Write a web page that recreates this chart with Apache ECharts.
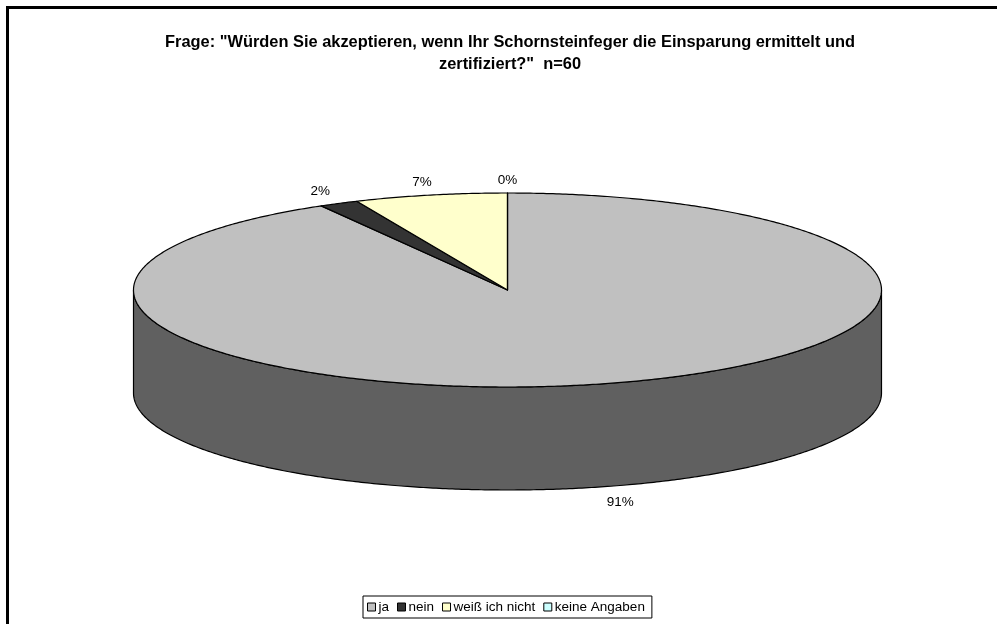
<!DOCTYPE html>
<html><head><meta charset="utf-8">
<style>html,body{margin:0;padding:0;background:#fff}#c{width:997px;height:624px}</style>
<script src="https://cdn.jsdelivr.net/npm/echarts@6/dist/echarts.min.js"></script>
</head><body><div id="c"></div>
<script>
const titleText = 'Frage: "Würden Sie akzeptieren, wenn Ihr Schornsteinfeger die Einsparung ermittelt und\nzertifiziert?"  n=60';
const categories = ['ja', 'nein', 'weiß ich nicht', 'keine Angaben'];
const values = [91.7, 1.7, 6.6, 0];
const valueLabels = ['91%', '2%', '7%', '0%'];
const topColors = ['#C0C0C0', '#333333', '#FFFFCC', '#CCFFFF'];
const sideColors = ['#606060', '#1a1a1a', '#808066', '#668080'];

const cx = 507.5, cy = 290, rx = 374, ry = 97, depth = 103;
const total = values.reduce((a, b) => a + b, 0);
const font = '"Liberation Sans", Arial, sans-serif';

function pt(deg, dy) {
  const r = deg * Math.PI / 180;
  return [cx + rx * Math.sin(r), cy - ry * Math.cos(r) + (dy || 0)];
}
function arc(a, b, dy) {
  const out = [];
  const n = Math.max(1, Math.ceil(Math.abs(b - a) / 0.5));
  for (let i = 0; i <= n; i++) out.push(pt(a + (b - a) * i / n, dy));
  return out;
}
function renderSlice(idx, params, api) {
  let before = 0;
  for (let i = 0; i < idx; i++) before += values[i];
  const a0 = before / total * 360;
  const a1 = a0 + api.value(0) / total * 360;
  const children = [];
  const line = { stroke: '#000', lineWidth: 1.2, lineJoin: 'round' };
  const s0 = Math.max(a0, 90), s1 = Math.min(a1, 270);
  if (s1 > s0) {
    children.push({
      type: 'polygon',
      shape: { points: arc(s0, s1, 0).concat(arc(s1, s0, depth)) },
      style: Object.assign({ fill: sideColors[idx] }, line)
    });
  }
  children.push({
    type: 'polygon',
    shape: { points: [[cx, cy]].concat(arc(a0, a1, 0)) },
    style: Object.assign({ fill: topColors[idx] }, line)
  });
  const mid = (a0 + a1) / 2;
  const mr = mid * Math.PI / 180;
  const lower = Math.cos(mr) < 0;
  const kx = lower ? 1.17 : 1.11, ky = 1.09;
  children.push({
    type: 'text',
    style: {
      x: cx + rx * kx * Math.sin(mr),
      y: cy - ry * ky * Math.cos(mr) + (lower ? depth + 7 : -4),
      text: valueLabels[idx],
      fill: '#000',
      font: '13.5px ' + font,
      align: 'center',
      verticalAlign: 'middle'
    }
  });
  return { type: 'group', children };
}

const chart = echarts.init(document.getElementById('c'));
chart.setOption({
  animation: false,
  backgroundColor: '#fff',
  title: {
    text: titleText,
    left: 510, top: 31, textAlign: 'center', padding: 0,
    textStyle: { fontFamily: font, fontWeight: 'bold', fontSize: 16.4, lineHeight: 22, color: '#000' }
  },
  legend: {
    left: 363, top: 596,
    orient: 'horizontal',
    padding: [4, 7, 4, 4],
    borderColor: '#000', borderWidth: 1, backgroundColor: '#fff',
    itemWidth: 8, itemHeight: 8, itemGap: 8,
    selectedMode: false,
    textStyle: { fontFamily: font, fontSize: 13.5, color: '#000', padding: [0, 0, 0, -2] },
    data: categories.map((name, i) => ({
      name, icon: 'rect',
      itemStyle: { color: topColors[i], borderColor: '#000', borderWidth: 1 }
    }))
  },
  graphic: [{
    type: 'rect', silent: true,
    shape: { x: 7.5, y: 7.5, width: 1200, height: 900 },
    style: { fill: 'none', stroke: '#000', lineWidth: 3 }
  }],
  series: categories.map((name, i) => ({
    type: 'custom', name, coordinateSystem: 'none', silent: true,
    itemStyle: { color: topColors[i] },
    data: [values[i]],
    renderItem: (p, api) => renderSlice(i, p, api)
  }))
});
</script></body></html>
